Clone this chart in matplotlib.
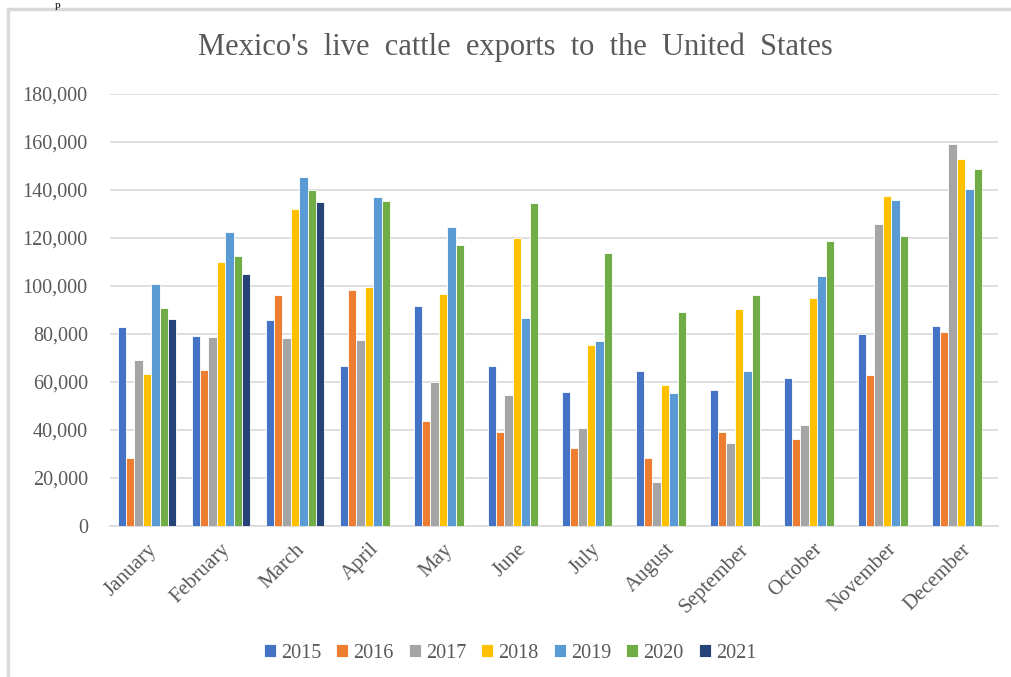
import numpy as np
import matplotlib
matplotlib.use("Agg")
import matplotlib.pyplot as plt
from matplotlib.patches import Rectangle

months = ['January', 'February', 'March', 'April', 'May', 'June', 'July',
          'August', 'September', 'October', 'November', 'December']
years = ['2015', '2016', '2017', '2018', '2019', '2020', '2021']

v2015 = [82900, 79200, 85700, 66500, 91800, 66500, 55700, 64600, 56700, 61700, 80100, 83300]
v2016 = [28300, 65000, 96100, 98300, 43900, 39200, 32600, 28500, 39300, 36400, 62800, 81000]
v2017 = [69200, 78700, 78200, 77600, 60000, 54700, 40700, 18500, 34400, 42000, 125700, 159000]
v2018 = [63200, 110100, 132200, 99700, 96500, 120000, 75400, 58900, 90400, 95100, 137500, 152900]
v2019 = [100700, 122400, 145400, 137000, 124700, 86700, 77200, 55300, 64600, 104000, 136000, 140300]
v2020 = [90800, 112400, 140100, 135600, 117200, 134600, 113900, 89000, 96100, 118600, 121000, 148700]
v2021 = [86200, 105000, 135000] + [np.nan] * 9

series = [v2015, v2016, v2017, v2018, v2019, v2020, v2021]
colors = ['#4472C4', '#ED7D31', '#A5A5A5', '#FFC000', '#5B9BD5', '#70AD47', '#264478']

plt.rcParams['font.family'] = ['Liberation Serif', 'DejaVu Serif']

fig = plt.figure(figsize=(10.11, 6.77), dpi=100)
ax = fig.add_axes([110 / 1011, 151 / 677, 888 / 1011, 432 / 677])

# chart area border (runs past the right and bottom edge of the crop)
fig.patches.append(Rectangle((8 / 1011, -0.05), 1.1, (677 - 9) / 677 + 0.05,
                             transform=fig.transFigure, fill=False,
                             edgecolor='#d9d9d9', linewidth=2.5, zorder=0))
# bit of the page text above the chart
fig.text(58 / 1011, 0.999, 'p', fontsize=8, color='black', ha='center', va='top')

x = np.arange(len(months))
w = 0.113
n = len(series)
for i, (vals, c, yr) in enumerate(zip(series, colors, years)):
    ax.bar(x + (i - (n - 1) / 2) * w, vals, width=w, color=c,
           edgecolor='white', linewidth=0.6, label=yr, zorder=3)

ax.set_xlim(-0.5, len(months) - 0.5)
ax.set_ylim(0, 180000)
ax.set_yticks(np.arange(0, 180001, 20000))
ax.set_yticklabels([f'{v:,}' for v in range(0, 180001, 20000)])
ax.yaxis.grid(True, color='#d9d9d9', linewidth=1.2, zorder=0)
ax.set_axisbelow(True)
for s in ['top', 'right', 'left']:
    ax.spines[s].set_visible(False)
ax.spines['bottom'].set_color('#d9d9d9')
ax.spines['bottom'].set_linewidth(1.2)
ax.tick_params(axis='both', length=0, labelcolor='#595959')
ax.tick_params(axis='y', labelsize=14.5, pad=16)
ax.tick_params(axis='x', labelsize=15, pad=10)
ax.set_xticks(x)
ax.set_xticklabels(months, rotation=45, ha='right', rotation_mode='anchor')

fig.text(515 / 1011, 1 - 47 / 677, "Mexico's  live  cattle  exports  to  the  United  States",
         fontsize=22, color='#595959', ha='center', va='center')

leg = fig.legend(loc='center', bbox_to_anchor=(510 / 1011, 1 - 653 / 677), ncol=7,
                 frameon=False, fontsize=14.5, handlelength=0.6, handleheight=0.6,
                 handletextpad=0.25, columnspacing=0.75)
for t in leg.get_texts():
    t.set_color('#595959')

fig.savefig('out.png', dpi=100)
